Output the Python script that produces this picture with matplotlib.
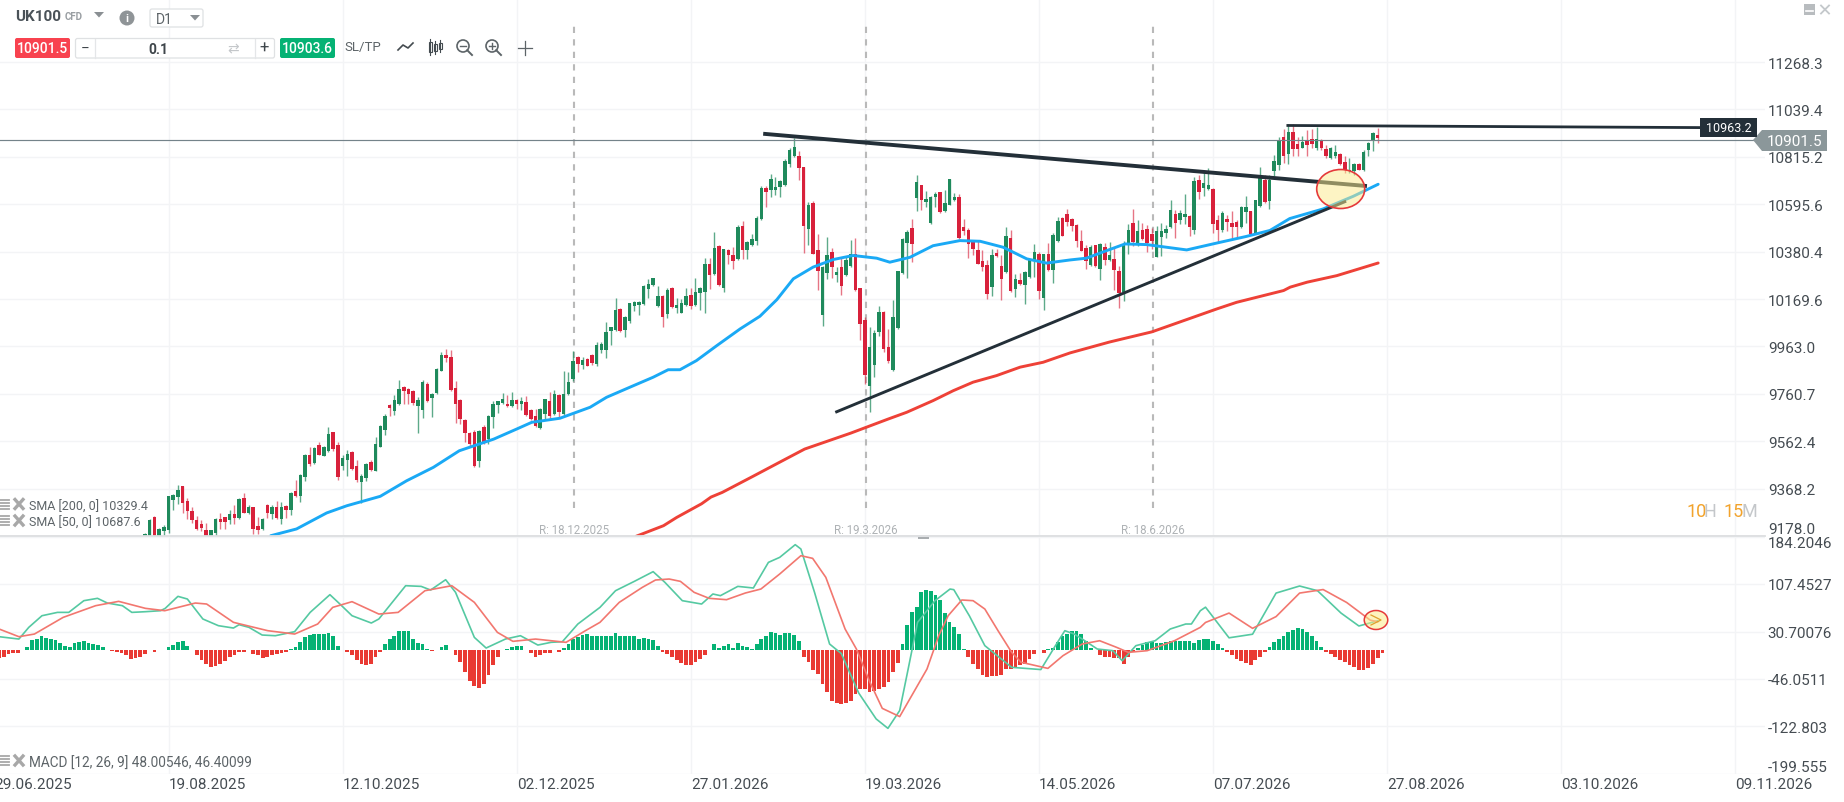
import numpy as np
import matplotlib
matplotlib.use("Agg")
import matplotlib.pyplot as plt
from matplotlib.patches import Ellipse, Rectangle, Polygon, Circle, FancyBboxPatch
from matplotlib.ticker import NullLocator

plt.rcParams['font.family'] = ['Roboto', 'DejaVu Sans']

opens = [9178,9170,9254,9175,9196,9200,9324,9336,9377,9319,
9278,9243,9227,9203,9178,9191,9247,9254,9240,9267,
9251,9329,9271,9294,9218,9207,9303,9264,9294,9244,
9297,9280,9359,9340,9417,9506,9472,9547,9503,9520,
9600,9547,9461,9483,9517,9459,9396,9411,9476,9441,
9540,9610,9714,9690,9718,9788,9781,9774,9711,9694,
9804,9741,9763,9859,9926,9916,9785,9733,9649,9596,
9600,9481,9622,9572,9664,9714,9722,9719,9708,9734,
9717,9726,9691,9667,9619,9676,9732,9676,9757,9674,
9758,9822,9916,9884,9911,9926,9888,9949,9949,10028,
10032,10126,10033,10075,10138,10145,10148,10213,10231,10138,
10183,10104,10218,10130,10110,10142,10189,10142,10194,10200,
10327,10280,10406,10220,10386,10365,10347,10496,10388,10410,
10428,10529,10669,10660,10660,10674,10685,10783,10818,10820,
10767,10484,10602,10386,10101,10284,10379,10275,10313,10275,
10315,10371,10216,10079,9792,9885,10025,10113,9959,9860,
10042,10286,10421,10487,10622,10684,10605,10508,10628,10651,
10563,10593,10616,10627,10490,10478,10426,10388,10340,10320,
10221,10376,10318,10289,10442,10213,10252,10231,10265,10343,
10370,10176,10368,10298,10428,10533,10551,10528,10500,10427,
10397,10322,10409,10304,10402,10343,10347,10292,10200,10417,
10510,10409,10480,10483,10460,10356,10445,10463,10492,10549,
10525,10536,10540,10480,10707,10669,10665,10665,10522,10476,
10530,10512,10513,10491,10560,10563,10462,10588,10708,10611,
10747,10778,10909,10830,10933,10874,10858,10894,10901,10858,
10891,10852,10809,10817,10827,10789,10747,10747,10781,10752,
10847,10891,10920]

highs = [9190,9245,9256,9210,9220,9340,9347,9384,9380,9329,
9294,9258,9240,9230,9203,9250,9270,9254,9280,9303,
9329,9349,9304,9294,9254,9250,9307,9304,9317,9316,
9304,9353,9403,9426,9511,9537,9540,9558,9544,9621,
9600,9558,9505,9526,9524,9483,9428,9473,9483,9578,
9629,9675,9717,9755,9820,9792,9784,9778,9746,9820,
9809,9763,9869,9937,9954,9949,9817,9737,9655,9602,
9607,9610,9629,9671,9732,9732,9763,9757,9768,9737,
9747,9751,9698,9698,9701,9740,9768,9775,9761,9857,
9855,9942,9923,9919,9914,9929,9981,9981,10068,10048,
10174,10131,10095,10154,10160,10160,10231,10258,10264,10228,
10186,10219,10222,10174,10171,10219,10216,10261,10224,10350,
10353,10468,10410,10392,10392,10403,10502,10519,10430,10458,
10541,10681,10681,10734,10723,10708,10804,10855,10902,10843,
10770,10605,10611,10462,10314,10448,10395,10313,10350,10358,
10432,10444,10219,10091,10047,10035,10138,10116,10040,10167,
10295,10441,10477,10529,10731,10685,10657,10633,10654,10654,
10660,10712,10647,10642,10529,10487,10434,10426,10388,10341,
10392,10392,10365,10490,10476,10281,10283,10292,10347,10413,
10380,10371,10421,10463,10537,10536,10575,10533,10503,10477,
10412,10412,10412,10418,10420,10423,10400,10314,10427,10503,
10573,10525,10510,10500,10488,10495,10510,10500,10616,10567,
10567,10642,10548,10722,10732,10747,10762,10669,10548,10563,
10548,10563,10525,10588,10632,10564,10616,10770,10732,10732,
10824,10909,10945,10971,10971,10909,10912,10940,10948,10955,
10897,10871,10863,10871,10832,10821,10809,10786,10786,10847,
10886,10933,10951]

lows = [9170,9160,9160,9170,9178,9190,9280,9307,9271,9247,
9231,9200,9198,9170,9170,9178,9207,9205,9224,9227,
9247,9270,9267,9187,9187,9200,9251,9244,9247,9224,
9250,9260,9333,9313,9400,9459,9469,9506,9500,9517,
9524,9404,9445,9421,9445,9394,9312,9400,9441,9440,
9537,9590,9666,9673,9715,9718,9718,9715,9596,9658,
9728,9662,9760,9856,9895,9772,9640,9636,9558,9537,
9455,9456,9552,9552,9617,9680,9718,9705,9705,9695,
9691,9667,9649,9623,9615,9649,9649,9670,9662,9673,
9754,9817,9855,9864,9878,9884,9881,9935,9912,9970,
10030,10027,10004,10066,10116,10098,10145,10174,10225,10133,
10047,10086,10130,10108,10107,10139,10127,10138,10120,10110,
10213,10278,10228,10201,10323,10301,10343,10347,10347,10407,
10410,10525,10581,10627,10639,10631,10681,10769,10815,10708,
10376,10410,10368,10210,10050,10259,10262,10245,10189,10272,
10312,10206,9992,9802,9683,9831,10007,9940,9891,9857,
10039,10281,10263,10335,10563,10570,10585,10505,10585,10557,
10560,10590,10611,10437,10457,10353,10365,10325,10292,10171,
10183,10356,10164,10286,10201,10179,10231,10147,10263,10265,
10168,10120,10295,10240,10425,10449,10496,10473,10400,10382,
10304,10317,10310,10254,10322,10340,10210,10132,10161,10371,
10405,10406,10435,10379,10390,10355,10359,10442,10488,10442,
10506,10507,10452,10458,10620,10633,10662,10465,10417,10470,
10473,10442,10442,10488,10512,10458,10460,10585,10600,10575,
10724,10755,10786,10781,10817,10821,10855,10817,10855,10847,
10847,10812,10806,10809,10778,10739,10739,10731,10752,10747,
10821,10844,10881]

closes = [9187,9243,9170,9207,9214,9340,9341,9364,9311,9276,
9240,9207,9210,9178,9203,9247,9235,9235,9267,9250,
9327,9271,9294,9205,9203,9244,9271,9294,9251,9294,
9280,9352,9337,9424,9507,9469,9533,9507,9537,9594,
9531,9415,9492,9510,9448,9405,9421,9469,9444,9552,
9625,9666,9701,9735,9781,9774,9760,9721,9736,9809,
9730,9760,9868,9927,9912,9775,9718,9655,9596,9551,
9461,9606,9558,9668,9718,9729,9740,9708,9733,9717,
9731,9670,9656,9626,9695,9737,9667,9761,9684,9761,
9810,9902,9887,9905,9881,9891,9969,9975,10025,10045,
10123,10030,10091,10150,10155,10157,10228,10234,10261,10183,
10092,10209,10133,10144,10151,10183,10139,10201,10218,10323,
10275,10395,10231,10391,10365,10338,10492,10388,10425,10436,
10531,10669,10651,10711,10677,10701,10798,10847,10862,10764,
10498,10590,10371,10292,10311,10364,10310,10290,10228,10341,
10368,10209,10060,9841,9959,10021,10113,9954,9901,10091,
10292,10436,10467,10415,10696,10616,10619,10630,10644,10560,
10602,10712,10631,10441,10472,10416,10394,10326,10310,10191,
10363,10359,10259,10453,10204,10260,10234,10289,10344,10380,
10204,10368,10298,10456,10517,10452,10514,10498,10427,10385,
10340,10400,10317,10415,10343,10364,10299,10198,10412,10477,
10424,10473,10438,10421,10430,10473,10473,10483,10567,10512,
10555,10549,10491,10701,10652,10693,10684,10506,10480,10554,
10513,10492,10491,10585,10585,10462,10613,10727,10604,10708,
10798,10894,10818,10933,10852,10854,10886,10871,10874,10901,
10858,10817,10858,10840,10783,10752,10755,10783,10755,10840,
10881,10928,10901.5]

sma50_idx = [26.7,32.2,38.6,42.9,50,55.6,61.3,66.8,74.1,79,82.2,88.2,94.6,98.1,103.8,108,111.2,113.7,117.2,121.5,126.5,130.7,
134.3,137.8,142,146.3,150.5,155.5,158.3,162.6,167.5,173.2,177.5,182.4,187.4,191.6,196.6,
200.1,204.4,208.3,212.9,221.4,227.8,234.1,239.1,243.3,250.4,256.8,262.1]
sma50_val = [9179,9206,9270,9299,9337,9400,9455,9523,9571,9613,9641,9658,9704,9746,9795,9831,9863,9863,9902,9966,10039,10094,
10167,10259,10311,10345,10363,10351,10333,10355,10407,10430,10427,10400,10348,10329,10343,
10351,10385,10415,10412,10388,10419,10449,10476,10530,10574,10632,10687.6]

sma200_idx = [104.4,110.2,113,118.3,120.3,122.7,129.2,134.9,140.2,150,158,161.9,167.5,171.8,176,181,186,190.9,196.6,205,214,227.8,232,242,243.4,247,253.3,262.1]
sma200_val = [9177,9219,9252,9307,9334,9353,9418,9476,9530,9596,9655,9683,9732,9774,9810,9838,9874,9895,9935,9982,10026,10126,10155,10207,10222,10244,10273,10329.4]

macd_idx = [-31,-26.8,-24.7,-21.9,-18.6,-16.2,-13,-10.1,-8,-4.8,-2.8,0.1,3.3,4.3,7,9,12.3,15.6,18.8,20,22.1,24.9,27.7,31.8,35.1,39.3,41.2,44,48.1,49.7,55.4,58.7,60.7,63.9,66,70,72.5,76.6,79.8,83.5,86.3,88.7,92,96.7,
100,104,108,110.5,114.2,118.3,120.7,122.3,126,129.3,132.5,134.9,138.2,139.4,142.3,145.5,148,151.7,155.4,157.9,160.4,162.2,164.2,167.9,171.1,171.9,175.2,178.5,184.2,190.4,193.5,195.5,197.5,199.2,202.4,205.7,207.7,210.6,214.7,217.9,221.2,222.4,224.3,225.4,230.4,235.4,240.4,245.4,249.2,254.2,258,262]
macd_val = [22.3,18.5,37.4,56.2,61.6,61.6,80.5,84.3,76.7,72.4,61.6,62.7,64.3,68.1,87.5,83.2,50.9,40.1,36.3,41.7,37.4,25,23.9,30.4,61.6,90.2,76.7,56.2,44.4,50.9,104.7,103.6,97.7,114.4,94,21.2,4,18.5,23.9,8.8,13.2,14.2,42.8,69.7,
96.6,111.7,127.4,110.1,80.5,75.1,91.3,88.6,103.6,101,142.4,150.5,171,164,94,10.5,-5,-68.8,-110.6,-125.8,-97,-30,45.5,80.5,99.3,98.3,56.2,7.8,-27.2,-30.8,7.8,32,26.6,18.5,2.4,-0.3,-16.5,7.8,15.8,34.7,42.8,42.8,64.3,70,20.5,26.3,92.8,104.2,96.6,60.5,39.6,48.0]

signal_idx = [-31,-26.8,-23.5,-17.4,-10.5,-5.6,0.1,4.2,10.7,13.1,18.8,26.1,31.8,36.7,39.9,44,49.7,53.8,59.5,65.2,70,74.9,78.2,83,89.5,93.6,96.7,
100.8,105.7,108.5,111.4,113.8,116.7,119.9,123.6,127.6,130.9,134.9,139.4,141.9,144.7,148.8,151.2,154,156.7,160.4,166.2,168.7,170.7,173.6,176,178.5,181.3,184.2,186.2,191.9,195.1,199.2,202.9,206.5,209,213,218.8,224.3,225.4,230.4,235.4,240.4,245.4,250.4,255.4,260.4,262]
signal_val = [34.7,22.3,26.6,53.5,72.4,79.4,68.1,64.3,76.7,75.1,45.5,32,26.6,42.8,69.7,78.9,58.9,61.6,96.6,104.7,77.8,29.3,14.8,18.5,13.2,32,45.5,
77.8,102,113.9,115.5,111.7,94,84.3,82.1,92.9,99.3,123.6,153.2,148.9,118.2,34.7,2.4,-50,-93.5,-106.8,-30,24,56.2,81.6,80.5,67,32,-3,-19,-28.9,-8.4,10.5,15.8,5.1,-3,-0.3,15.8,37.4,45.3,60.5,35.8,54.8,92.8,98.5,77.6,49.1,46.4]

hist_val = [-12,-10,-6,-4,-4,0,5,17,19,24,20,18,17,12,8,6,12,13,15,12,11,9,5,0,-1,-2,-4,-8,-13,-12,-10,-6,0,-2,0,0,6,9,14,15,8,0,-8,-15,-22,-26,-25,-22,-17,-11,-8,-3,-2,0,-5,-8,-12,-10,-8,-6,-4,-2,3,5,13,22,25,27,27,27,28,23,8,0,-3,-8,-15,-22,-23,-22,-11,-2,10,18,24,31,32,31,19,12,11,3,-1,0,5,9,1,-8,-19,-35,-49,-58,-60,-54,-40,-24,-11,0,3,6,8,8,1,-4,-10,-8,-4,-4,0,-2,4,11,19,22,25,27,24,24,
24,24,24,28,24,23,23,23,19,21,19,17,8,-2,-6,-11,-16,-21,-23,-24,-19,-13,-8,0,10,4,8,10,4,12,8,6,3,10,19,24,30,28,25,28,28,25,16,-11,-19,-32,
-38,-54,-67,-81,-85,-86,-85,-81,-70,-62,-62,-67,-65,-62,-59,-51,-35,-20,
10,42,62,71,94,98,96,89,81,60,46,38,26,3,
-10,-22,-30,-40,-43,-42,-42,-39,-30,-30,-26,-23,-22,-13,-6,0,-4,
2,4,13,24,27,31,32,26,15,4,0,
-8,-10,-11,-12,-12,-22,-10,-2,
4,9,13,13,12,12,13,15,16,16,16,16,12,17,19,
19,16,10,4,
-3,-8,-13,-17,-20,-23,-16,-10,-3,
5,13,19,24,30,33,37,35,30,23,15,6,
-3,-6,-11,-15,-19,-24,-27,-31,-32,-28,-22,-12,-4]

price_ticks = [11268.3,11039.4,10815.2,10595.6,10380.4,10169.6,9963.0,9760.7,9562.4,9368.2,9178.0]
macd_ticks = [184.2046,107.4527,30.70076,-46.0511,-122.803,-199.555]
date_labels = ['29.06.2025','19.08.2025','12.10.2025','02.12.2025','27.01.2026','19.03.2026','14.05.2026','07.07.2026','27.08.2026','03.10.2026','09.11.2026']
date_idx = [-32,5,42,79,116,153,190,227,264,301,338]
release_idx = [91.2,153.2,214.2]
release_labels = ['R: 18.12.2025','R: 19.3.2026','R: 18.6.2026']

res_x = [131.8,259.3]; res_y = [10923,10680]
sup_x = [147,255];     sup_y = [9685,10607]
top_x = [242.9,330.5]; top_y = [10963,10953]
last_line = 10893

W, H = 1844, 803
PITCH, X0 = 4.705, 145.0
TXT = '#454c52'
GRID = '#f3f4f6'
CG, CR = '#1f8a5c', '#d8213b'
DARK = '#232f38'

fig = plt.figure(figsize=(W/100, H/100), dpi=100, facecolor='white')
def axes_px(l, t, r, b, **kw):
    return fig.add_axes([l/W, 1-b/H, (r-l)/W, (b-t)/H], **kw)

ax = axes_px(0, 0, 1765, 537)
ax2 = axes_px(0, 537.5, 1765, 775)
xlim = ((0-X0)/PITCH, (1765-X0)/PITCH)

ax.set_yscale('log')
ax.set_xlim(*xlim); ax.set_ylim(9178, 11580)
ax2.set_xlim(*xlim); ax2.set_ylim(-199.555, 184.2046)

for a in (ax, ax2):
    for s in a.spines.values():
        s.set_visible(False)
    a.grid(True, color=GRID, lw=1.0, zorder=0)
    a.set_axisbelow(True)
    a.yaxis.tick_right()
    a.tick_params(axis='both', length=0, labelsize=11, labelcolor=TXT, pad=2)
    a.set_xticks(date_idx[1:])

ax.yaxis.set_minor_locator(NullLocator())
ax.yaxis.set_major_locator(plt.FixedLocator(price_ticks))
ax.yaxis.set_minor_formatter(plt.NullFormatter())
ax.set_yticklabels([f'{v:.1f}' for v in price_ticks])
ax.get_yticklabels()[-1].set_va('bottom')
ax.set_xticklabels([])

ax2.set_yticks(macd_ticks)
ax2.set_yticklabels(['184.2046','107.4527','30.70076','-46.0511','-122.803','-199.555'])
ax2.get_yticklabels()[0].set_va('top')
ax2.get_yticklabels()[-1].set_va('bottom')
ax2.set_xticklabels(date_labels[1:], ha='left')
ax2.annotate(date_labels[0], xy=(date_idx[0], 0), xycoords=ax2.get_xaxis_transform(),
             xytext=(0, -2), textcoords='offset points', ha='left', va='top', fontsize=11, color=TXT,
             annotation_clip=False)

# candles
idx = np.arange(len(closes))
o, hi, lo, c = map(np.array, (opens, highs, lows, closes))
up = c >= o
ax.vlines(idx[up], lo[up], hi[up], color=CG, lw=1.0, alpha=.72, zorder=3)
ax.vlines(idx[~up], lo[~up], hi[~up], color=CR, lw=1.0, alpha=.62, zorder=3)
body_lo, body_hi = np.minimum(o, c), np.maximum(o, c)
ax.bar(idx[up], (body_hi-body_lo)[up], bottom=body_lo[up], width=.74, color=CG, zorder=4)
ax.bar(idx[~up], (body_hi-body_lo)[~up], bottom=body_lo[~up], width=.74, color=CR, zorder=4)

# moving averages
ax.plot(sma50_idx, sma50_val, color='#1aa9f5', lw=2.1, zorder=5, solid_capstyle='round', solid_joinstyle='round')
ax.plot(sma200_idx, sma200_val, color='#ee4137', lw=2.1, zorder=5, solid_capstyle='round', solid_joinstyle='round')

# drawn objects
ax.axhline(last_line, color='#74838a', lw=.85, zorder=6)
ax.plot(res_x, res_y, color=DARK, lw=2.8, zorder=6)
ax.plot(sup_x, sup_y, color=DARK, lw=2.1, zorder=6)
ax.plot(top_x, top_y, color=DARK, lw=2.0, zorder=6)

for x_, lab in zip(release_idx, release_labels):
    ax.plot([x_, x_], [9290, 11470], color='#b9b9b9', lw=1.5, dashes=(3.0, 3.0), zorder=2)
    ax.text(x_, 9205, lab, color='#aeb2b5', fontsize=8.3, ha='center', va='center', zorder=7)

# MACD panel
hidx = np.arange(len(hist_val)) - 31
hv = np.array(hist_val, float)
ax2.bar(hidx, hv, width=.8, color=np.where(hv >= 0, '#05b274', '#e93a33'), zorder=3)
ax2.plot(macd_idx, macd_val, color='#55c9a2', lw=1.2, zorder=4, solid_joinstyle='round')
ax2.plot(signal_idx, signal_val, color='#f2776f', lw=1.2, zorder=4, solid_joinstyle='round')

# overlay in pixels for the platform furniture
ov = fig.add_axes([0, 0, 1, 1], zorder=20)
ov.set_xlim(0, W); ov.set_ylim(H, 0); ov.axis('off'); ov.patch.set_alpha(0)

ov.plot([0, 1765], [537, 537], color='#dcdee0', lw=1.3)
ov.add_patch(Rectangle((918, 537.5), 11, 2.2, fc='#a9adb0', ec='none'))

# highlights
ov.add_patch(Ellipse((1340.7, 190), 48, 39, fc='#fdeb8a', ec='none', alpha=.5))
ov.add_patch(Ellipse((1340.7, 190), 48, 39, fc='none', ec='#e5393a', lw=1.2))
ov.add_patch(Ellipse((1376, 621), 23.5, 19, fc='#fdeb8a', ec='none', alpha=.55))
ov.add_patch(Ellipse((1376, 621), 23.5, 19, fc='none', ec='#e5393a', lw=1.1))
ov.plot([1371, 1381, 1371], [616, 621, 626], color='#e0a02c', lw=.9)

# price tags
ov.add_patch(Polygon([(1753, 141), (1762, 131), (1827, 131), (1827, 152), (1762, 152)], fc='#8b979a', ec='none'))
ov.text(1795, 141.5, '10901.5', color='white', fontsize=11, ha='center', va='center')
ov.add_patch(Rectangle((1700, 119), 57, 18.5, fc=DARK, ec='none'))
ov.text(1728.5, 128, '10963.2', color='white', fontsize=9, ha='center', va='center')

# countdown
for x_, s, col in [(1686, '10', '#f2a32c'), (1703, 'H', '#c4c7ca'), (1723, '15', '#f2a32c'), (1741, 'M', '#c4c7ca')]:
    ov.text(x_, 512, s, color=col, fontsize=13, ha='left', va='center')

# indicator legends
def legend(y, s, fs):
    for dy in (-5, -2, 1, 4):
        ov.plot([0, 9], [y+dy, y+dy], color='#a8a8a8', lw=1.3)
    ov.plot([15, 23], [y-5, y+4], color='#a8a8a8', lw=2.4)
    ov.plot([15, 23], [y+4, y-5], color='#a8a8a8', lw=2.4)
    ov.text(29, y+1.5, s, color='#5d6468', fontsize=fs, ha='left', va='center')
legend(505.5, 'SMA [200, 0] 10329.4', 9.0)
legend(522, 'SMA [50, 0] 10687.6', 9.0)
legend(762, 'MACD [12, 26, 9] 48.00546, 46.40099', 9.8)

# toolbar
ov.text(15, 17, 'UK100', color='#4a5258', fontsize=11, fontweight='bold', ha='left', va='center')
ov.text(65, 17.5, 'CFD', color='#9a9fa3', fontsize=7, fontweight='bold', ha='left', va='center')
ov.add_patch(Polygon([(94, 13), (104, 13), (99, 18.5)], fc='#8a8f93', ec='none'))
ov.add_patch(Circle((127, 19), 7.5, fc='#8f9497', ec='none'))
ov.text(127, 19, 'i', color='white', fontsize=8, fontweight='bold', ha='center', va='center')
ov.add_patch(FancyBboxPatch((150, 10), 53, 18, boxstyle='round,pad=0,rounding_size=2', fc='white', ec='#dfe1e3', lw=.9))
ov.text(156, 19.5, 'D1', color='#5d6468', fontsize=10, ha='left', va='center')
ov.add_patch(Polygon([(190, 16), (200, 16), (195, 21.5)], fc='#8a8f93', ec='none'))

ov.add_patch(FancyBboxPatch((15, 39), 55, 20, boxstyle='round,pad=0,rounding_size=2', fc='#f8424f', ec='none'))
ov.text(42.5, 49, '10901.5', color='white', fontsize=10, fontweight='medium', ha='center', va='center')
ov.add_patch(FancyBboxPatch((75.5, 39.5), 199, 19.5, boxstyle='round,pad=0,rounding_size=2', fc='white', ec='#dfe1e3', lw=.9))
ov.plot([94.5, 94.5], [39.5, 59], color='#e4e6e8', lw=.9)
ov.plot([254.5, 254.5], [39.5, 59], color='#e4e6e8', lw=.9)
ov.text(85, 48.5, '\u2212', color='#3f464b', fontsize=11, ha='center', va='center')
ov.text(158, 49.5, '0.1', color='#3f464b', fontsize=10, fontweight='bold', ha='center', va='center')
ov.text(233, 49.5, '\u21c4', color='#c4c7ca', fontsize=10, family=['DejaVu Sans'], ha='center', va='center')
ov.text(264, 48.5, '+', color='#3f464b', fontsize=12, ha='center', va='center')
ov.add_patch(FancyBboxPatch((280, 39), 55, 20, boxstyle='round,pad=0,rounding_size=2', fc='#05b274', ec='none'))
ov.text(307.5, 49, '10903.6', color='white', fontsize=10, fontweight='medium', ha='center', va='center')
ov.text(363, 48, 'SL/TP', color='#5d6468', fontsize=9.5, ha='center', va='center')

ov.plot([398, 403, 408, 413], [51, 46, 49, 44], color='#444b50', lw=1.2)
for x_, t_, b_ in [(430, 42, 54), (435, 44, 53), (440, 43, 51)]:
    ov.plot([x_, x_], [t_-2, b_+2], color='#444b50', lw=.8)
    ov.add_patch(Rectangle((x_-1.5, t_+1), 3.0, b_-t_-2, fc='white', ec='#444b50', lw=.8))
for cx_, plus in [(463, False), (492, True)]:
    ov.add_patch(Circle((cx_, 47), 6, fc='none', ec='#5d6468', lw=1.2))
    ov.plot([cx_+4.2, cx_+9], [51.2, 56], color='#5d6468', lw=1.4)
    ov.plot([cx_-3, cx_+3], [47, 47], color='#5d6468', lw=1)
    if plus:
        ov.plot([cx_, cx_], [44, 50], color='#5d6468', lw=1)
ov.plot([518, 532], [48.5, 48.5], color='#5d6468', lw=.9)
ov.plot([525, 525], [42, 56], color='#5d6468', lw=.9)

# window controls
ov.add_patch(Rectangle((1804, 5), 11, 11, fc='#b8bcbf', ec='none'))
ov.plot([1806, 1813], [12, 12], color='white', lw=1.2)
ov.plot([1821, 1829], [6.5, 14.5], color='#c4c8cb', lw=1.3)
ov.plot([1821, 1829], [14.5, 6.5], color='#c4c8cb', lw=1.3)

fig.savefig('out.png', dpi=100, facecolor='white')
